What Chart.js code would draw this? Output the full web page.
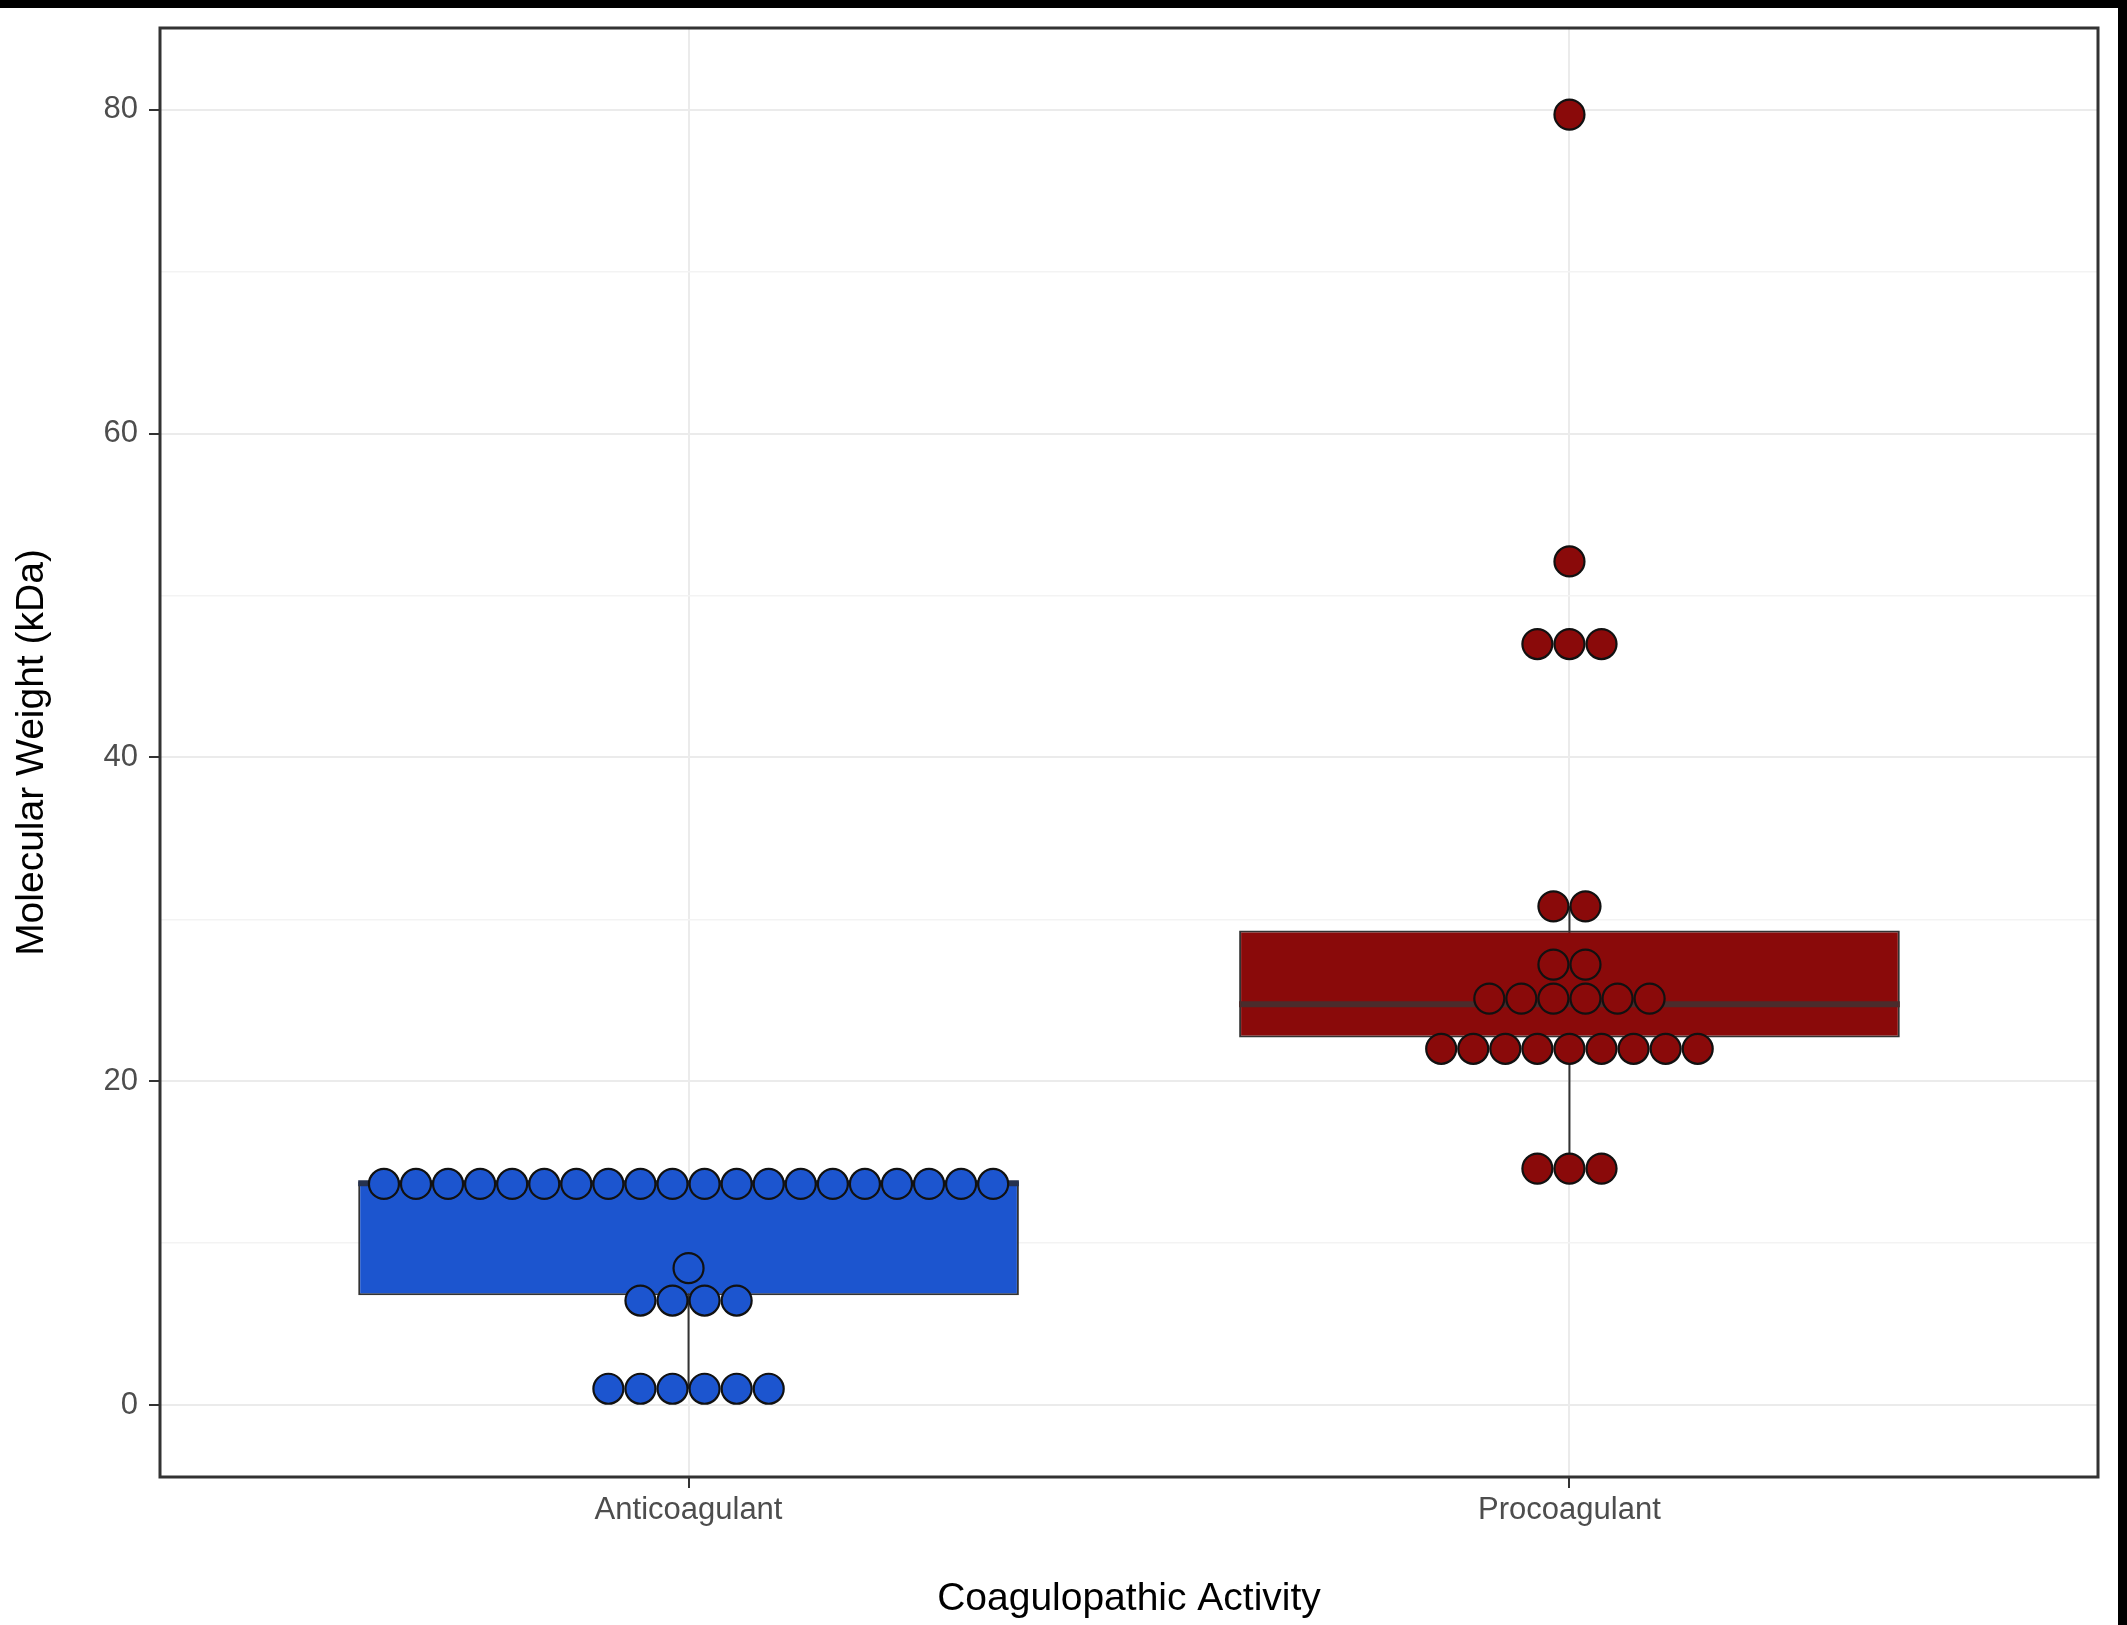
<!DOCTYPE html>
<html>
<head>
<meta charset="utf-8">
<title>Molecular Weight by Coagulopathic Activity</title>
<script src="https://cdn.jsdelivr.net/npm/chart.js@4.4.1/dist/chart.umd.min.js"></script>
<style>
    html, body { margin: 0; padding: 0; background: #fff; }
    #frame {
        position: absolute; left: 0; top: 0;
        width: 2127px; height: 1625px;
        box-sizing: border-box;
        border-top: 8px solid #000;
        border-right: 9px solid #000;
    }
    #wrap { position: relative; width: 2118px; height: 1617px; }
</style>
</head>
<body>
<div id="frame"><div id="wrap"><canvas id="chart"></canvas></div></div>
<script>
// Categories and axis ticks
const categories = ['Anticoagulant', 'Procoagulant'];
const yMajorTicks = [0, 20, 40, 60, 80];
const yMinorTicks = [10, 30, 50, 70];

// Individual proteins (kDa)
const anticoagulantValues = [
    13.65, 13.65, 13.65, 13.65, 13.65, 13.65, 13.65, 13.65, 13.65, 13.65,
    13.65, 13.65, 13.65, 13.65, 13.65, 13.65, 13.65, 13.65, 13.65, 13.65,
    8.45,
    6.45, 6.45, 6.45, 6.45,
    1.0, 1.0, 1.0, 1.0, 1.0, 1.0
];
const procoagulantValues = [
    79.7,
    52.1,
    47.0, 47.0, 47.0,
    30.8, 30.8,
    27.2, 27.2,
    25.1, 25.1, 25.1, 25.1, 25.1, 25.1,
    22.0, 22.0, 22.0, 22.0, 22.0, 22.0, 22.0, 22.0, 22.0,
    14.6, 14.6, 14.6
];

// Box plot summaries (one entry per category)
const boxQ1 = [6.77, 22.7];
const boxMedian = [13.7, 24.75];
const boxQ3 = [13.8, 29.3];
const whiskerLow = [1.0, 14.6];
const whiskerHigh = [13.8, 30.8];

// Colours
const fillColors = ['#1c55cf', '#8a0a0a'];
const medianColors = ['#26324f', '#4a2c2c'];

const boxWidth = 0.75;      // in category units
const dotSpacing = 0.0364;  // one dot diameter in category units

// Spread equal values side by side, centred on the category
function dotPoints(values, center) {
    const rows = new Map();
    values.forEach(v => rows.set(v, (rows.get(v) || 0) + 1));
    const pts = [];
    rows.forEach((n, v) => {
        for (let i = 0; i < n; i++) {
            pts.push({ x: center + (i - (n - 1) / 2) * dotSpacing, y: v });
        }
    });
    return pts;
}

// Draw the panel border like theme_bw
const panelBorder = {
    id: 'panelBorder',
    afterDraw(chart) {
        const { ctx, chartArea } = chart;
        ctx.save();
        ctx.strokeStyle = '#333';
        ctx.lineWidth = 3;
        ctx.strokeRect(chartArea.left, chartArea.top, chartArea.right - chartArea.left, chartArea.bottom - chartArea.top);
        ctx.restore();
    }
};

const FONT = "'Liberation Sans', Arial, Helvetica, sans-serif";

const ctx = document.getElementById('chart');
new Chart(ctx, {
    type: 'scatter',
    data: {
        datasets: [
            {
                type: 'scatter',
                label: categories[0],
                data: dotPoints(anticoagulantValues, 1),
                pointRadius: 15,
                pointBackgroundColor: fillColors[0],
                pointBorderColor: '#111',
                pointBorderWidth: 2.2,
                order: 0
            },
            {
                type: 'scatter',
                label: categories[1],
                data: dotPoints(procoagulantValues, 2),
                pointRadius: 15,
                pointBackgroundColor: fillColors[1],
                pointBorderColor: '#111',
                pointBorderWidth: 2.2,
                order: 0
            },
            {
                type: 'line',
                label: 'Median',
                data: categories.flatMap((c, i) => [
                    { x: i + 1 - boxWidth / 2, y: boxMedian[i] },
                    { x: i + 1 + boxWidth / 2, y: boxMedian[i] },
                    { x: i + 1, y: null }
                ]),
                borderWidth: 6,
                borderColor: '#333',
                segment: {
                    borderColor: c => medianColors[Math.floor(c.p0DataIndex / 3)]
                },
                pointRadius: 0,
                fill: false,
                spanGaps: false,
                order: 1
            },
            {
                type: 'bar',
                label: 'Box',
                data: categories.map((c, i) => ({ x: i + 1, y: [boxQ1[i], boxQ3[i]] })),
                backgroundColor: fillColors,
                borderColor: '#333',
                borderWidth: 2,
                borderSkipped: false,
                categoryPercentage: 1,
                barPercentage: boxWidth,
                order: 2
            },
            {
                type: 'line',
                label: 'Whiskers',
                data: categories.flatMap((c, i) => [
                    { x: i + 1, y: whiskerLow[i] },
                    { x: i + 1, y: whiskerHigh[i] },
                    { x: i + 1, y: null }
                ]),
                borderWidth: 2,
                borderColor: '#333',
                pointRadius: 0,
                fill: false,
                spanGaps: false,
                order: 3
            }
        ]
    },
    options: {
        responsive: true,
        maintainAspectRatio: false,
        animation: false,
        devicePixelRatio: 1,
        layout: { padding: { left: 0, top: 20, right: 20, bottom: 0 } },
        plugins: {
            legend: { display: false },
            tooltip: { enabled: false }
        },
        scales: {
            x: {
                type: 'linear',
                min: 0.4,
                max: 2.6,
                offset: false,
                afterBuildTicks: scale => {
                    scale.ticks = categories.map((c, i) => ({ value: i + 1 }));
                },
                afterFit: scale => {
                    scale.height = 148;
                    scale.paddingLeft = 0;
                    scale.paddingRight = 0;
                },
                ticks: {
                    autoSkip: false,
                    maxRotation: 0,
                    padding: 4,
                    color: '#4d4d4d',
                    font: { family: FONT, size: 31 },
                    callback: v => categories[Math.round(v) - 1]
                },
                grid: {
                    offset: false,
                    color: '#ebebeb',
                    lineWidth: 2,
                    tickColor: '#333',
                    tickLength: 11,
                    tickWidth: 2
                },
                border: { display: false },
                title: {
                    display: true,
                    text: 'Coagulopathic Activity',
                    color: '#000',
                    font: { family: FONT, size: 39 },
                    padding: { top: 0, bottom: 2 }
                }
            },
            y: {
                type: 'linear',
                min: -4.45,
                max: 85.05,
                afterBuildTicks: scale => {
                    scale.ticks = [...yMajorTicks, ...yMinorTicks].sort((a, b) => a - b).map(v => ({ value: v }));
                },
                afterFit: scale => {
                    scale.width = 160;
                    scale.paddingTop = 0;
                    scale.paddingBottom = 0;
                },
                ticks: {
                    autoSkip: false,
                    padding: 11,
                    color: '#4d4d4d',
                    font: { family: FONT, size: 31 },
                    callback: v => yMajorTicks.includes(v) ? String(v) : ''
                },
                grid: {
                    color: c => yMajorTicks.includes(c.tick.value) ? '#ebebeb' : '#f3f3f3',
                    lineWidth: c => yMajorTicks.includes(c.tick.value) ? 2 : 1.5,
                    tickColor: c => yMajorTicks.includes(c.tick.value) ? '#333' : 'rgba(0,0,0,0)',
                    tickLength: 11,
                    tickWidth: 2
                },
                border: { display: false },
                title: {
                    display: true,
                    text: 'Molecular Weight (kDa)',
                    color: '#000',
                    font: { family: FONT, size: 39 },
                    padding: { top: 9, bottom: 0 }
                }
            }
        }
    },
    plugins: [panelBorder]
});
</script>
</body>
</html>
